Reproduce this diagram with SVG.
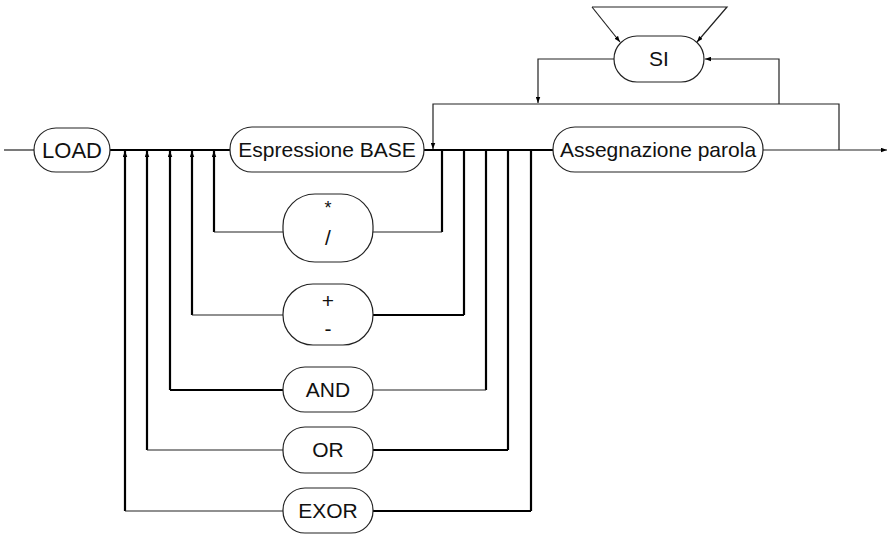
<svg xmlns="http://www.w3.org/2000/svg" width="891" height="534" viewBox="0 0 891 534">
  <style>
    .box { fill: #fff; stroke: #222; stroke-width: 1.2; }
    .lbl { font-family: "Liberation Sans", Arial, sans-serif; font-size: 21px; fill: #111; text-anchor: middle; }
    .thin { fill: none; stroke: #222; stroke-width: 1.2; }
    .thick { fill: none; stroke: #000; stroke-width: 2.2; }
  </style>
  <defs>
    <marker id="arr" viewBox="0 0 8 6" refX="8" refY="3" markerWidth="6" markerHeight="5" markerUnits="userSpaceOnUse" orient="auto">
      <path d="M0,0 L8,3 L0,6 Z" fill="#000"/>
    </marker>
  </defs>

  <!-- connectors -->
  <g id="connectors">
    <!-- entry and exit -->
    <path class="thin" d="M4,150 H34"/>
    <path class="thin" d="M763,150 H887" marker-end="url(#arr)"/>
    <!-- main line -->
    <path class="thick" d="M110,150 H230"/>
    <path class="thick" d="M424,150 H553"/>
    <!-- bypass of the assignment -->
    <path class="thin" d="M839,150 V104 H433 V149" marker-end="url(#arr)"/>
    <!-- repeat loop through SI -->
    <path class="thin" d="M779,104 V59 H705" marker-end="url(#arr)"/>
    <path class="thin" d="M614,59 H538 V103" marker-end="url(#arr)"/>
    <path class="thin" d="M592,7 L620,42" marker-end="url(#arr)"/>
    <path class="thin" d="M592,7 H727 L697,42" marker-end="url(#arr)"/>
    <!-- return verticals on the left -->
    <path class="thick" d="M125,511 V151" marker-end="url(#arr)"/>
    <path class="thick" d="M147,450 V151" marker-end="url(#arr)"/>
    <path class="thick" d="M170,390 V151" marker-end="url(#arr)"/>
    <path class="thick" d="M192,315 V151" marker-end="url(#arr)"/>
    <path class="thick" d="M214,232 V151" marker-end="url(#arr)"/>
    <!-- verticals on the right -->
    <path class="thick" d="M442,150 V232"/>
    <path class="thick" d="M464,150 V315"/>
    <path class="thick" d="M486,150 V390"/>
    <path class="thick" d="M508,150 V450"/>
    <path class="thick" d="M531,150 V511"/>
    <!-- operator branches -->
    <path class="thin" d="M214,232 H283"/>
    <path class="thin" d="M373,232 H442"/>
    <path class="thin" d="M192,315 H283"/>
    <path class="thick" d="M373,315 H464"/>
    <path class="thick" d="M170,390 H283"/>
    <path class="thin" d="M373,390 H486"/>
    <path class="thin" d="M147,450 H283"/>
    <path class="thick" d="M373,450 H508"/>
    <path class="thin" d="M125,511 H283"/>
    <path class="thick" d="M373,511 H531"/>
  </g>

  <!-- nodes -->
  <g id="load">
    <rect class="box" x="34" y="128" width="76" height="44" rx="22"/>
    <text class="lbl" x="72" y="158" style="font-size:22px">LOAD</text>
  </g>
  <g id="espressione-base">
    <rect class="box" x="230" y="127" width="194" height="45" rx="22"/>
    <text class="lbl" x="327" y="157">Espressione BASE</text>
  </g>
  <g id="assegnazione-parola">
    <rect class="box" x="553" y="127" width="210" height="45" rx="22"/>
    <text class="lbl" x="658" y="157">Assegnazione parola</text>
  </g>
  <g id="si">
    <rect class="box" x="614" y="36" width="90" height="46" rx="23"/>
    <text class="lbl" x="659" y="66">SI</text>
  </g>
  <g id="mul-div">
    <rect class="box" x="283" y="194" width="90" height="68" rx="32"/>
    <text class="lbl" x="328" y="214" style="font-size:18px">*</text>
    <text class="lbl" x="328" y="245">/</text>
  </g>
  <g id="add-sub">
    <rect class="box" x="283" y="284" width="90" height="61" rx="30"/>
    <text class="lbl" x="328" y="308">+</text>
    <text class="lbl" x="328" y="336">-</text>
  </g>
  <g id="and">
    <rect class="box" x="283" y="367" width="90" height="45" rx="22"/>
    <text class="lbl" x="328" y="397">AND</text>
  </g>
  <g id="or">
    <rect class="box" x="283" y="427" width="90" height="46" rx="22"/>
    <text class="lbl" x="328" y="457">OR</text>
  </g>
  <g id="exor">
    <rect class="box" x="283" y="488" width="90" height="45" rx="22"/>
    <text class="lbl" x="328" y="518">EXOR</text>
  </g>
</svg>
